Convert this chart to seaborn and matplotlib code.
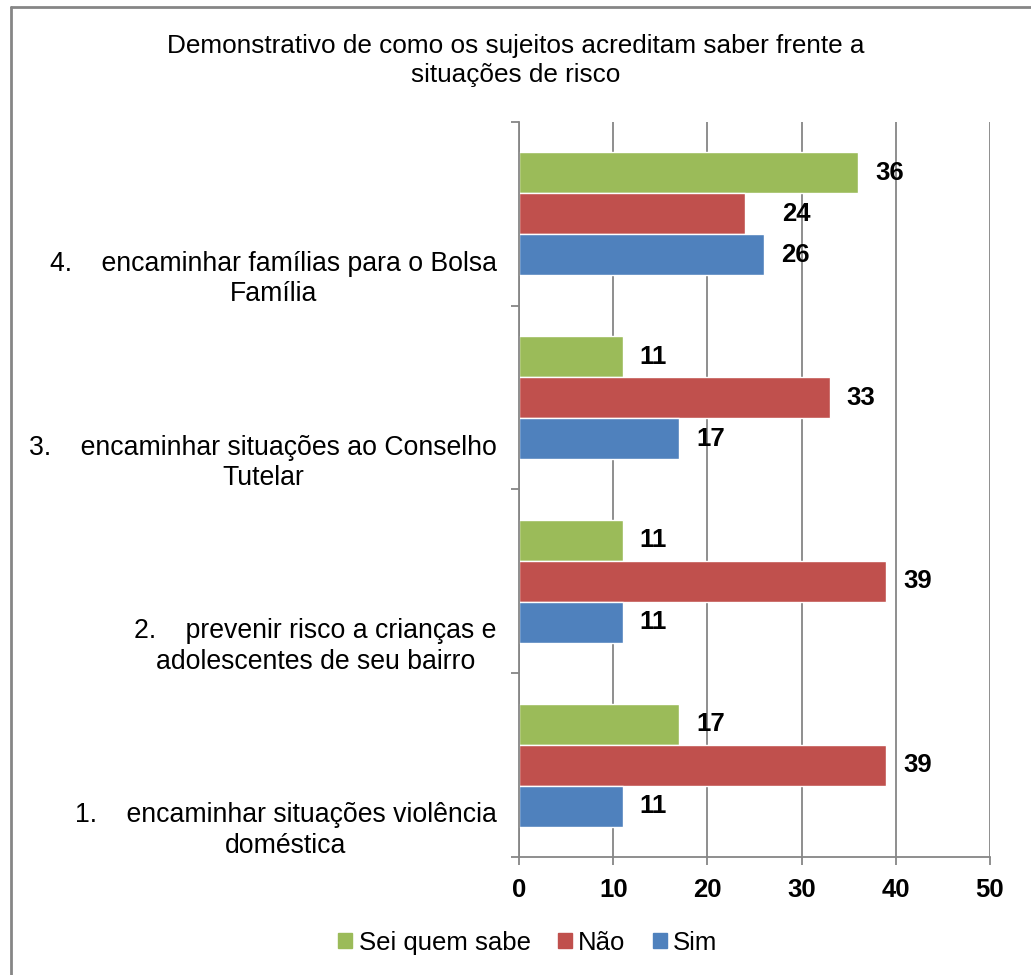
import matplotlib
matplotlib.use("Agg")
import matplotlib.pyplot as plt
import matplotlib.transforms as mtransforms
from matplotlib.lines import Line2D
import seaborn as sns
import pandas as pd

categories = [
    "4.    encaminhar famílias para o Bolsa\nFamília",
    "3.    encaminhar situações ao Conselho\nTutelar",
    "2.    prevenir risco a crianças e\nadolescentes de seu bairro",
    "1.    encaminhar situações violência\ndoméstica",
]
series = ["Sei quem sabe", "Não", "Sim"]
sei_quem_sabe = [36, 11, 11, 17]
nao = [24, 33, 39, 39]
sim = [26, 17, 11, 11]
colors = ["#9BBB59", "#C0504D", "#4F81BD"]
title = "Demonstrativo de como os sujeitos acreditam saber frente a\nsituações de risco"
xticks = [0, 10, 20, 30, 40, 50]

rows = []
for s, vals in zip(series, [sei_quem_sabe, nao, sim]):
    for c, v in zip(categories, vals):
        rows.append({"cat": c, "serie": s, "val": v})
df = pd.DataFrame(rows)

sns.set_theme(style="white")
plt.rcParams["font.family"] = ["Liberation Sans", "DejaVu Sans"]
plt.rcParams["text.color"] = "black"
plt.rcParams["xtick.color"] = "black"
plt.rcParams["ytick.color"] = "black"

fig = plt.figure(figsize=(10.31, 9.75), dpi=100)
ax = fig.add_axes([0.5034, 0.1210, 0.4568, 0.7539])

sns.barplot(data=df, y="cat", x="val", hue="serie", order=categories,
            hue_order=series, palette=colors, orient="h", width=0.67,
            saturation=1, ax=ax, legend=False, errorbar=None)

ax.set_xlim(0, 50)
ax.set_ylim(3.5, -0.5)
ax.set_xticks(xticks)
ax.set_xticklabels([str(t) for t in xticks], fontsize=18.5, fontweight="bold",
                   color="black")
ax.set_xlabel("")
ax.set_ylabel("")
ax.grid(axis="x", color="#868686", linewidth=1.3)
ax.set_axisbelow(True)
for sp in ["top", "right"]:
    ax.spines[sp].set_visible(False)
for sp in ["left", "bottom"]:
    ax.spines[sp].set_color("#868686")
    ax.spines[sp].set_linewidth(1.3)

ax.tick_params(axis="x", which="major", length=6, width=1.3, color="#868686",
               direction="out", bottom=True, pad=9)
ax.set_yticks([-0.5, 0.5, 1.5, 2.5, 3.5], minor=True)
ax.tick_params(axis="y", which="minor", length=6, width=1.3, color="#868686",
               direction="out", left=True)
ax.tick_params(axis="y", which="major", length=0, pad=16, labelsize=19.2,
               labelcolor="black")
offset = mtransforms.ScaledTranslation(0, -0.6, fig.dpi_scale_trans)
for i, lab in enumerate(ax.get_yticklabels()):
    lab.set_transform(lab.get_transform() + offset)
    lab.set_multialignment("center")
    lab.set_linespacing(1.22)

for hi, cont in enumerate(ax.containers):
    for ci, bar in enumerate(cont):
        w = bar.get_width()
        dx = 17 + (20 if (hi, ci) == (1, 0) else 0)
        ax.annotate(f"{int(w)}", (w, bar.get_y() + bar.get_height() / 2),
                    xytext=(dx * 0.72, 0), textcoords="offset points",
                    ha="left", va="center", fontsize=18.5, fontweight="bold",
                    color="black")

fig.text(0.50, 0.938, title, ha="center", va="center", fontsize=18.8,
         linespacing=1.25, color="black")

handles = [plt.Rectangle((0, 0), 1, 1, color=c) for c in colors]
fig.legend(handles, series, loc="center", bbox_to_anchor=(0.512, 0.033),
           ncol=3, frameon=False, fontsize=18.5, handlelength=0.55,
           handleheight=0.55, handletextpad=0.25, columnspacing=1.05,
           labelcolor="black")

fig.add_artist(Line2D([0.0102, 0.0102], [0.0, 0.9928], transform=fig.transFigure,
                      color="#868686", linewidth=2))
fig.add_artist(Line2D([0.0102, 1.0], [0.9928, 0.9928], transform=fig.transFigure,
                      color="#868686", linewidth=2))

fig.savefig("out.png", dpi=100)
